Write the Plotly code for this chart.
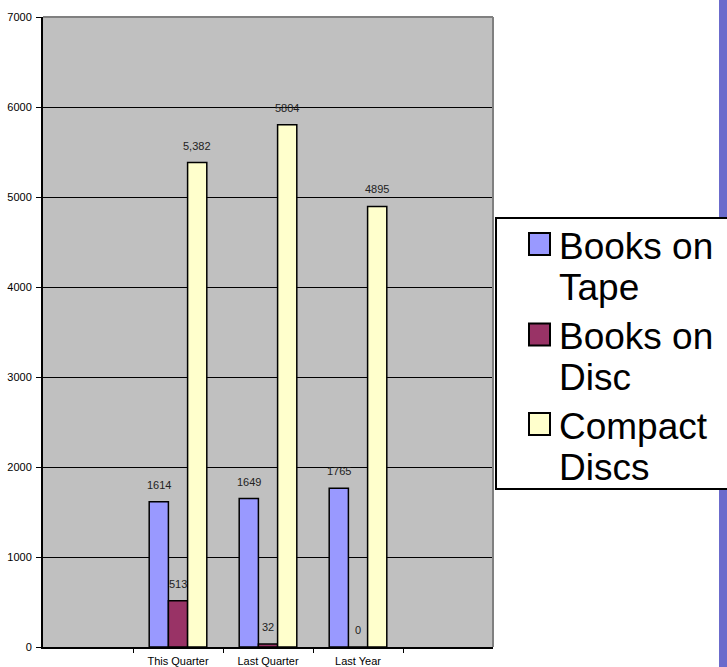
import plotly.graph_objects as go

# ---- data ----
categories = ["This Quarter", "Last Quarter", "Last Year"]
series_names = ["Books on Tape", "Books on Disc", "Compact Discs"]
legend_lines = [["Books on", "Tape"], ["Books on", "Disc"], ["Compact", "Discs"]]
books_on_tape = [1614, 1649, 1765]
books_on_disc = [513, 32, 0]
compact_discs = [5382, 5804, 4895]
tape_labels = ["1614", "1649", "1765"]
disc_labels = ["513", "32", "0"]
cd_labels = ["5,382", "5804", "4895"]
y_ticks = [0, 1000, 2000, 3000, 4000, 5000, 6000, 7000]

colors = ["#9999ff", "#993366", "#ffffcc"]
values = [books_on_tape, books_on_disc, compact_discs]
labels = [tape_labels, disc_labels, cd_labels]

FONT = "Arial, Liberation Sans, sans-serif"
W, H = 727, 667
L, R, T, B = 43, 234, 17, 20
BARGAP = 0.36

fig = go.Figure()
for name, vals, col in zip(series_names, values, colors):
    fig.add_trace(go.Bar(
        x=categories, y=vals, name=name,
        marker=dict(color=col, line=dict(color="black", width=1.5)),
        showlegend=False,
    ))

# data labels above each bar
bar_w = (1 - BARGAP) / len(values)
annotations = []
for i, (vals, labs) in enumerate(zip(values, labels)):
    for j, (v, t) in enumerate(zip(vals, labs)):
        annotations.append(dict(
            x=j + (i - (len(values) - 1) / 2) * bar_w, y=v, xref="x", yref="y",
            text=t, showarrow=False, yshift=17, yanchor="middle",
            font=dict(family=FONT, size=11, color="#222222"),
        ))

# pixel -> paper helpers
pw, ph = W - L - R, H - T - B
def px(x):
    return (x - L) / pw
def py(y):
    return (H - B - y) / ph

shapes = []
# decorative strip on right
shapes.append(dict(type="rect", xref="paper", yref="paper",
                   x0=px(719), x1=px(W + 3), y0=py(-5), y1=py(H + 5),
                   fillcolor="#6b6bcc", line=dict(width=0), layer="above"))
# plot area top/right gray border
shapes.append(dict(type="line", xref="paper", yref="paper", x0=0, x1=1, y0=1, y1=1,
                   line=dict(color="#808080", width=2), layer="above"))
shapes.append(dict(type="line", xref="paper", yref="paper", x0=1, x1=1, y0=0, y1=1,
                   line=dict(color="#808080", width=2), layer="above"))
# legend box (white fill, border on top/left/bottom; right side runs off the page)
lx0, lx1, ly0, ly1 = px(496), px(W + 10), py(489), py(218)
shapes.append(dict(type="rect", xref="paper", yref="paper",
                   x0=lx0, x1=lx1, y0=ly0, y1=ly1,
                   fillcolor="white", line=dict(width=0), layer="above"))
shapes.append(dict(type="path", xref="paper", yref="paper",
                   path=f"M {lx1},{ly1} L {lx0},{ly1} L {lx0},{ly0} L {lx1},{ly0}",
                   line=dict(color="black", width=2), layer="above"))

sq_centers = [244, 334.5, 424]
for k, (lines, col) in enumerate(zip(legend_lines, colors)):
    cy = sq_centers[k]
    shapes.append(dict(type="rect", xref="paper", yref="paper",
                       x0=px(529), x1=px(550), y0=py(cy + 11), y1=py(cy - 11),
                       fillcolor=col, line=dict(color="black", width=2), layer="above"))
    for n, line in enumerate(lines):
        annotations.append(dict(
            x=px(557), y=py(cy + 2 + n * 41), xref="paper", yref="paper",
            text=line, showarrow=False, xanchor="left", yanchor="middle",
            font=dict(family=FONT, size=37, color="black"),
        ))

fig.update_layout(
    width=W, height=H,
    margin=dict(l=L, r=R, t=T, b=B, pad=0, autoexpand=False),
    paper_bgcolor="white", plot_bgcolor="#c0c0c0",
    barmode="group", bargap=BARGAP, bargroupgap=0,
    font=dict(family=FONT, size=11, color="black"),
    shapes=shapes, annotations=annotations,
    showlegend=False,
)
fig.update_xaxes(
    type="category", range=[-1.5, 3.5], tickson="boundaries", automargin=False,
    showline=True, linecolor="black", linewidth=2,
    ticks="outside", ticklen=4, tickcolor="black", tickwidth=1,
    ticklabelstandoff=3,
    showgrid=False, tickfont=dict(family=FONT, size=11, color="black"),
)
fig.update_yaxes(
    range=[0, 7000], tickvals=y_ticks, automargin=False,
    showline=True, linecolor="black", linewidth=2,
    ticks="outside", ticklen=5, tickcolor="black", tickwidth=1,
    ticklabelstandoff=2,
    showgrid=True, gridcolor="black", gridwidth=1, zeroline=False,
    tickfont=dict(family=FONT, size=11, color="black"),
)

fig.write_html("out.html")
